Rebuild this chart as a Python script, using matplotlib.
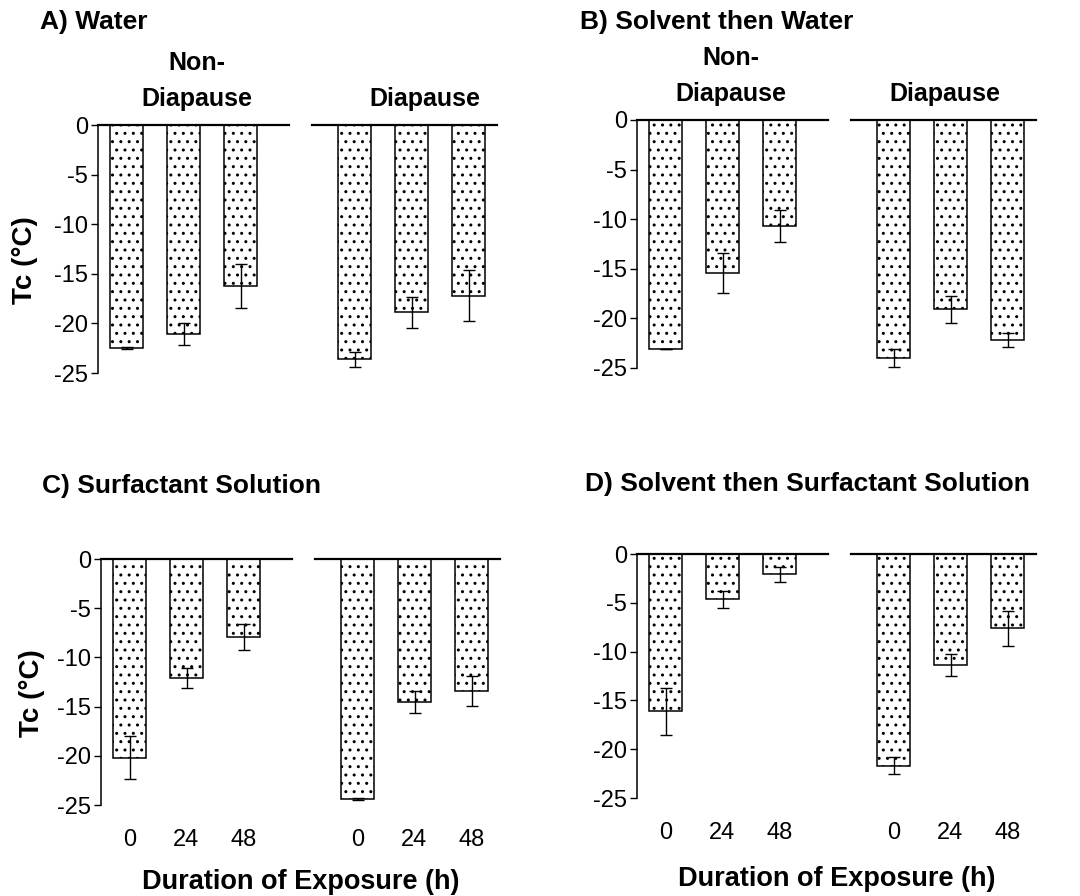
import numpy as np
import matplotlib
matplotlib.use("Agg")
import matplotlib.pyplot as plt

plt.rcParams['font.family'] = ['Liberation Sans', 'DejaVu Sans']
plt.rcParams['hatch.linewidth'] = 1.0

# Data: supercooling point Tc (C), mean and error, for each exposure duration
durations = ['0', '24', '48']

titles = ['A) Water', 'B) Solvent then Water',
          'C) Surfactant Solution', 'D) Solvent then Surfactant Solution']

water_nondiap = [-22.5, -21.1, -16.2]
water_nondiap_err = [0.1, 1.1, 2.2]
water_diap = [-23.6, -18.9, -17.2]
water_diap_err = [0.75, 1.55, 2.6]

solv_water_nondiap = [-23.1, -15.4, -10.7]
solv_water_nondiap_err = [0.0, 2.0, 1.6]
solv_water_diap = [-24.0, -19.1, -22.2]
solv_water_diap_err = [0.9, 1.4, 0.7]

surf_nondiap = [-20.2, -12.1, -7.9]
surf_nondiap_err = [2.2, 1.0, 1.3]
surf_diap = [-24.4, -14.5, -13.4]
surf_diap_err = [0.1, 1.1, 1.5]

solv_surf_nondiap = [-16.1, -4.65, -2.1]
solv_surf_nondiap_err = [2.4, 0.9, 0.75]
solv_surf_diap = [-21.7, -11.4, -7.6]
solv_surf_diap_err = [0.85, 1.15, 1.8]

panels = [
    (water_nondiap, water_nondiap_err, water_diap, water_diap_err),
    (solv_water_nondiap, solv_water_nondiap_err, solv_water_diap, solv_water_diap_err),
    (surf_nondiap, surf_nondiap_err, surf_diap, surf_diap_err),
    (solv_surf_nondiap, solv_surf_nondiap_err, solv_surf_diap, solv_surf_diap_err),
]

W, H = 1080, 896
fig = plt.figure(figsize=(W / 100, H / 100), dpi=100)

# axes boxes in pixels: left, top(zero line), bottom(-25 line)
boxes = [(98, 125, 373), (637, 120, 368), (101, 559, 805), (637, 554, 798)]
title_pos = [(40, 22), (580, 22), (42, 486), (585, 484)]
head_x = [(1.24, 5.24), (1.14, 4.9), None, None]
xlabel_off = [None, None, 64, 68]

x_nd = np.arange(3)
x_d = np.arange(3) + 4
bw = 0.58

for i, (nd, nd_err, d, d_err) in enumerate(panels):
    left, top, bot = boxes[i]
    ax = fig.add_axes([left / W, 1 - bot / H, 399 / W, (bot - top) / H])

    for xs, vals, err in [(x_nd, nd, nd_err), (x_d, d, d_err)]:
        ax.bar(xs, vals, width=bw, color='white', edgecolor='black',
               linewidth=1.1, hatch='..', zorder=2)
        ax.errorbar(xs, vals, yerr=err, fmt='none', ecolor='black',
                    elinewidth=1.0, capsize=4.5, capthick=1.0, zorder=3,
                    clip_on=False)

    # zero baselines for each group
    ax.plot([-0.5, 2.85], [0, 0], color='black', lw=1.6, zorder=4, clip_on=False)
    ax.plot([3.25, 6.5], [0, 0], color='black', lw=1.6, zorder=4, clip_on=False)

    ax.set_xlim(-0.5, 6.5)
    ax.set_ylim(-25, 0)
    ax.set_yticks([0, -5, -10, -15, -20, -25])
    ax.set_yticklabels(['0', '-5', '-10', '-15', '-20', '-25'])
    for s in ['top', 'right', 'bottom']:
        ax.spines[s].set_visible(False)
    ax.spines['left'].set_linewidth(1.1)
    ax.tick_params(axis='y', length=5, width=1.0, pad=2, labelsize=17)

    if i >= 2:
        ax.set_xticks(list(x_nd) + list(x_d))
        ax.set_xticklabels(durations * 2)
        ax.tick_params(axis='x', length=0, pad=17, labelsize=17)
        ax.set_xlabel('Duration of Exposure (h)', fontsize=19.5, fontweight='bold')
        ax.xaxis.set_label_coords(0.5, -xlabel_off[i] / (bot - top))
    else:
        ax.set_xticks([])
        hx = head_x[i]
        ax.text(hx[0], 6.2, 'Non-', ha='center', va='center', fontsize=18,
                fontweight='bold', clip_on=False)
        ax.text(hx[0], 2.6, 'Diapause', ha='center', va='center', fontsize=18,
                fontweight='bold', clip_on=False)
        ax.text(hx[1], 2.6, 'Diapause', ha='center', va='center', fontsize=18,
                fontweight='bold', clip_on=False)

    if i in (0, 2):
        ax.set_ylabel('Tc (°C)', fontsize=20, fontweight='bold')
        ax.yaxis.set_label_coords(-0.15 if i == 0 else -0.14, 0.455)

    tx, ty = title_pos[i]
    fig.text(tx / W, 1 - ty / H, titles[i], ha='left', va='center', fontsize=19,
             fontweight='bold')

fig.savefig('out.png', dpi=100)
